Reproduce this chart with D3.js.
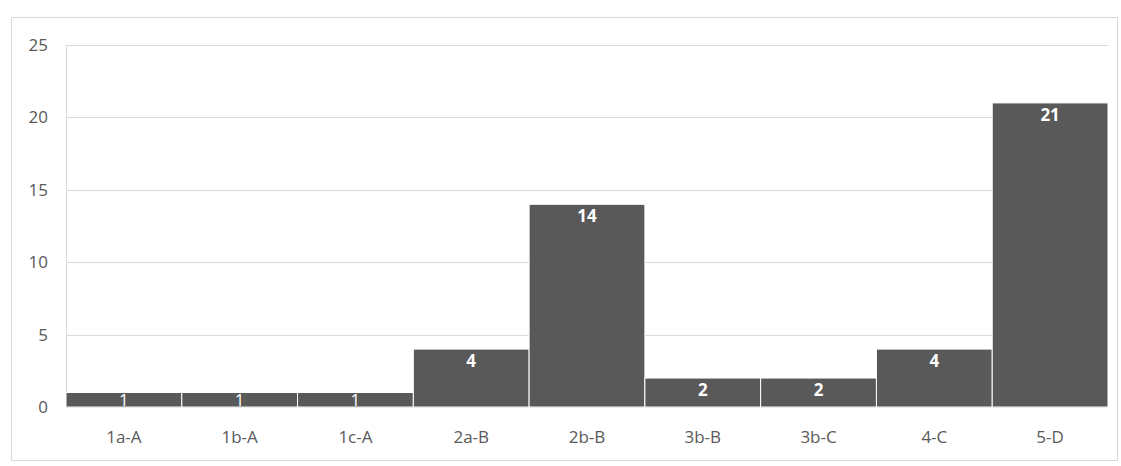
<!DOCTYPE html>
<html>
<head>
<meta charset="utf-8">
<script src="https://cdn.jsdelivr.net/npm/d3@7"></script>
<style>
  body { margin: 0; background: #fff; }
  text { font-family: "Open Sans", sans-serif; }
</style>
</head>
<body>
<div id="chart"></div>
<script>
var categories = ["1a-A", "1b-A", "1c-A", "2a-B", "2b-B", "3b-B", "3b-C", "4-C", "5-D"];
var values = [1, 1, 1, 4, 14, 2, 2, 4, 21];
var yTicks = [0, 5, 10, 15, 20, 25];

var width = 1121, height = 466;
var margin = {left: 66, right: 13, top: 45, bottom: 59};

var svg = d3.select("#chart").append("svg")
    .attr("width", width)
    .attr("height", height);

// outer chart border
svg.append("rect")
    .attr("x", 11.5).attr("y", 17.5)
    .attr("width", 1106).attr("height", 443)
    .attr("fill", "none")
    .attr("stroke", "#d9d9d9");

var xScale = d3.scaleBand()
    .domain(categories)
    .range([margin.left, width - margin.right])
    .paddingInner(0).paddingOuter(0);

var yScale = d3.scaleLinear()
    .domain([0, 25])
    .range([height - margin.bottom, margin.top]);

var group = svg.append("g");

// gridlines
group.selectAll(".grid")
    .data(yTicks)
    .enter().append("line")
    .attr("class", "grid")
    .attr("x1", margin.left)
    .attr("x2", width - margin.right)
    .attr("y1", function (d) { return Math.round(yScale(d)) + 0.5; })
    .attr("y2", function (d) { return Math.round(yScale(d)) + 0.5; })
    .attr("stroke", "#d9d9d9");

// y axis line
group.append("line")
    .attr("x1", margin.left + 0.5).attr("x2", margin.left + 0.5)
    .attr("y1", yScale(25)).attr("y2", yScale(0))
    .attr("stroke", "#d9d9d9");

// y tick labels
group.selectAll(".ylabel")
    .data(yTicks)
    .enter().append("text")
    .attr("class", "ylabel")
    .attr("x", 48)
    .attr("y", function (d) { return yScale(d); })
    .attr("dy", "0.35em")
    .attr("text-anchor", "end")
    .attr("fill", "#595959")
    .style("font-size", "17px")
    .text(function (d) { return d; });

// bars
group.selectAll(".bar")
    .data(values)
    .enter().append("rect")
    .attr("class", "bar")
    .attr("x", function (d, i) { return xScale(categories[i]); })
    .attr("width", xScale.bandwidth())
    .attr("y", function (d) { return yScale(d); })
    .attr("height", function (d) { return yScale(0) - yScale(d); })
    .attr("fill", "#595959")
    .attr("stroke", "#ffffff")
    .attr("stroke-width", 1);

// value labels (kept inside the bar)
group.selectAll(".vlabel")
    .data(values)
    .enter().append("text")
    .attr("class", "vlabel")
    .attr("x", function (d, i) { return xScale(categories[i]) + xScale.bandwidth() / 2; })
    .attr("y", function (d) { return Math.min(yScale(d) + 18, yScale(0) - 1); })
    .attr("text-anchor", "middle")
    .attr("fill", "#ffffff")
    .style("font-size", "17px")
    .style("font-weight", function (d) { return d > 1 ? "bold" : "normal"; })
    .text(function (d) { return d; });

// x tick labels
group.selectAll(".xlabel")
    .data(categories)
    .enter().append("text")
    .attr("class", "xlabel")
    .attr("x", function (d) { return xScale(d) + xScale.bandwidth() / 2; })
    .attr("y", 443)
    .attr("text-anchor", "middle")
    .attr("fill", "#595959")
    .style("font-size", "17px")
    .text(function (d) { return d; });
</script>
</body>
</html>
